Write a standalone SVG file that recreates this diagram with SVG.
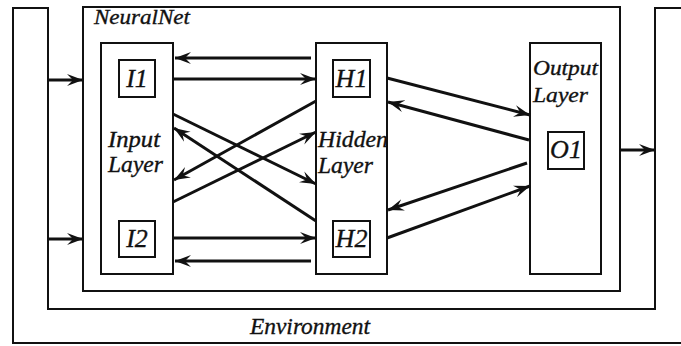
<svg xmlns="http://www.w3.org/2000/svg" width="681" height="346" viewBox="0 0 681 346">
<defs>
<style>
.box{fill:#fff;stroke:#111;stroke-width:2}
.env{fill:none;stroke:#111;stroke-width:2}
.lbl{font-family:'Times New Roman','Liberation Serif',Tinos,serif;font-style:italic;fill:#111;stroke:#111;stroke-width:0.35}
.arr{stroke:#111;stroke-width:3;fill:none;marker-end:url(#ah)}
</style>
<marker id="ah" markerUnits="userSpaceOnUse" markerWidth="18" markerHeight="13" refX="16" refY="6" orient="auto" viewBox="0 0 18 12">
<path d="M0,0 L16,6 L0,12 L6,6 Z" fill="#111"/>
</marker>
</defs>
<rect x="0" y="0" width="681" height="346" fill="#fff"/>
<g id="environment">
<path class="env" d="M682,8 L655,8 L655,309 L48,309 L48,8 L13,8 L13,343 L682,343"/>
<text class="lbl" x="250" y="334" font-size="24" textLength="120" lengthAdjust="spacingAndGlyphs">Environment</text>
</g>
<g id="neuralnet">
<rect class="box" x="83" y="7" width="537" height="284"/>
<text class="lbl" x="94" y="24" font-size="22" textLength="96" lengthAdjust="spacingAndGlyphs">NeuralNet</text>
</g>
<g id="input-layer">
<rect class="box" x="101" y="43" width="72" height="231"/>
<text class="lbl" x="108" y="147" font-size="23" textLength="52" lengthAdjust="spacingAndGlyphs">Input</text>
<text class="lbl" x="108" y="172" font-size="23" textLength="55" lengthAdjust="spacingAndGlyphs">Layer</text>
</g>
<g id="I1">
<rect class="box" x="119" y="60" width="36" height="37"/>
<text class="lbl" x="137" y="87" font-size="26" text-anchor="middle">I1</text>
</g>
<g id="I2">
<rect class="box" x="119" y="221" width="36" height="36"/>
<text class="lbl" x="137" y="247" font-size="26" text-anchor="middle">I2</text>
</g>
<g id="hidden-layer">
<rect class="box" x="316" y="43" width="71" height="231"/>
<text class="lbl" x="318" y="147" font-size="23" textLength="70" lengthAdjust="spacingAndGlyphs">Hidden</text>
<text class="lbl" x="318" y="173" font-size="23" textLength="55" lengthAdjust="spacingAndGlyphs">Layer</text>
</g>
<g id="H1">
<rect class="box" x="333" y="60" width="37" height="37"/>
<text class="lbl" x="351.5" y="87" font-size="26" text-anchor="middle">H1</text>
</g>
<g id="H2">
<rect class="box" x="333" y="221" width="37" height="36"/>
<text class="lbl" x="351.5" y="247" font-size="26" text-anchor="middle">H2</text>
</g>
<g id="output-layer">
<rect class="box" x="530" y="43" width="71" height="231"/>
<text class="lbl" x="533" y="75" font-size="22" textLength="65" lengthAdjust="spacingAndGlyphs">Output</text>
<text class="lbl" x="533" y="102" font-size="22" textLength="55" lengthAdjust="spacingAndGlyphs">Layer</text>
</g>
<g id="O1">
<rect class="box" x="548" y="132" width="36" height="37"/>
<text class="lbl" x="566" y="158" font-size="26" text-anchor="middle">O1</text>
</g>
<g id="connectors">
<line class="arr" x1="48" y1="80" x2="83" y2="80"/>
<line class="arr" x1="48" y1="239" x2="83" y2="239"/>
<line class="arr" x1="620" y1="150" x2="655" y2="150"/>
<line class="arr" x1="173" y1="79" x2="316" y2="79"/>
<line class="arr" x1="311" y1="58" x2="175" y2="58"/>
<line class="arr" x1="173" y1="238" x2="316" y2="238"/>
<line class="arr" x1="311" y1="261" x2="175" y2="261"/>
<line class="arr" x1="173" y1="114" x2="316" y2="184"/>
<line class="arr" x1="316" y1="101" x2="174" y2="180"/>
<line class="arr" x1="316" y1="221" x2="174" y2="128"/>
<line class="arr" x1="173" y1="202" x2="316" y2="132"/>
<line class="arr" x1="387" y1="78" x2="530" y2="115"/>
<line class="arr" x1="529" y1="140" x2="388" y2="102"/>
<line class="arr" x1="527" y1="163" x2="388" y2="210"/>
<line class="arr" x1="387" y1="238" x2="530" y2="186"/>
</g>
</svg>
